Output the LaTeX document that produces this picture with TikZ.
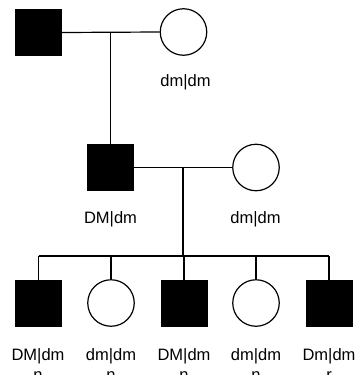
\documentclass[tikz,border=0pt]{standalone}
\usepackage{fontspec}
\setmainfont{Liberation Sans}
\begin{document}
\begin{tikzpicture}[x=1pt,y=-1pt,line width=1.2pt,
  male/.style={draw=black,fill=black,minimum size=46pt,inner sep=0pt,line width=1pt},
  female/.style={circle,draw=black,fill=white,minimum size=46.5pt,inner sep=0pt,line width=1.2pt},
  lbl/.style={font=\fontsize{16.5}{20}\selectfont,inner sep=0pt,align=center,anchor=base}]
\useasboundingbox (0,0) rectangle (356,375);
% generation I
\node[male] (gf) at (38.5,32.5) {};
\node[female] (gm) at (183.5,32) {};
\coordinate (m1) at (110.5,32.3);
\draw (gf.east) -- (gm.west);
% generation II
\node[male] (f) at (110.5,167.5) {};
\node[female] (m) at (256,167.5) {};
\coordinate (m2) at (183,167.5);
\draw (m1) -- (f.north);
\draw (f.east) -- (m.west);
% sibship line
\coordinate (sb) at (183,256);
\coordinate (sl) at (38.5,256);
\coordinate (sr) at (329,256);
\draw (m2) -- (sb);
\draw (sl) -- (sr);
% generation III
\node[male] (c1) at (38.5,303) {};
\node[female] (c2) at (111,303) {};
\node[male] (c3) at (184,303) {};
\node[female] (c4) at (256,303) {};
\node[male] (c5) at (329,303) {};
\foreach \c in {c1,c2,c3,c4,c5} {
  \draw (\c.north |- sl) -- (\c.north);
}
% labels
\node[lbl] (lgm) at (185.5,86.5) {dm|dm};
\node[lbl] (lf) at (110.5,223) {DM|dm};
\node[lbl] (lm) at (255.5,223) {dm|dm};
\node[lbl] (l1) at (38,380) {DM|dm\\n};
\node[lbl] (l2) at (111,380) {dm|dm\\n};
\node[lbl] (l3) at (184,380) {DM|dm\\n};
\node[lbl] (l4) at (256,380) {dm|dm\\n};
\node[lbl] (l5) at (329,380) {Dm|dm\\r};
\end{tikzpicture}
\end{document}
